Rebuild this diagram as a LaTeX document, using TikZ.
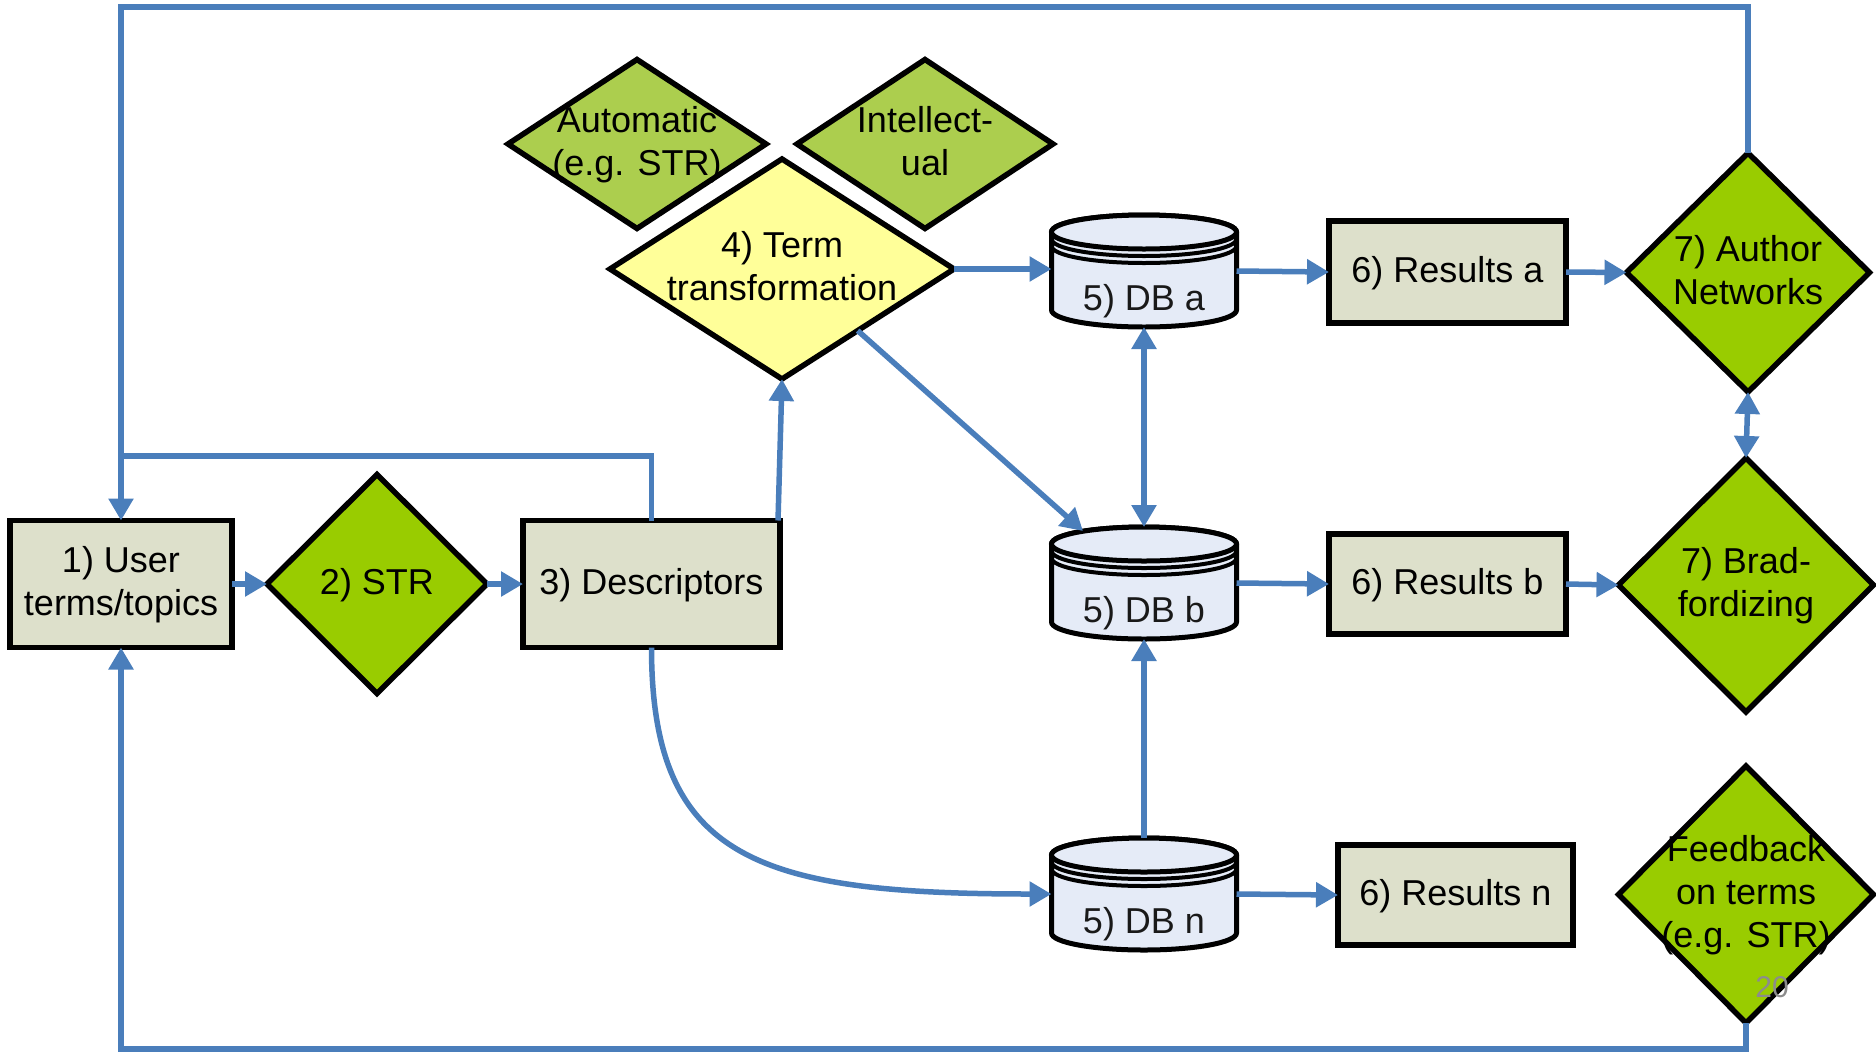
\documentclass[tikz,border=0pt]{standalone}
\usepackage{fontspec}
\setmainfont{Liberation Sans}
\usetikzlibrary{shapes.geometric,arrows.meta,calc}
\definecolor{linkblue}{RGB}{74,126,187}
\definecolor{greenfill}{RGB}{153,204,0}
\definecolor{hatchfill}{RGB}{172,206,78}
\definecolor{yellowfill}{RGB}{255,255,153}
\definecolor{boxfill}{RGB}{221,224,203}
\definecolor{dbfill}{RGB}{229,235,247}
\newcommand\tx[1]{\makebox[0pt]{\raisebox{-8pt}[0pt][0pt]{\begin{tabular}{@{}c@{}}#1\end{tabular}}}}
\newcommand\dbshape[4]{%
  \node[dbanchor] (#1) at (#2,#3) {};
  \path[dbline] (#2-92.5,#3-39) -- (#2-92.5,#3+39)
     arc[start angle=180,end angle=360,x radius=92.5pt,y radius=17pt]
     -- (#2+92.5,#3-39)
     arc[start angle=0,end angle=180,x radius=92.5pt,y radius=17pt] -- cycle;
  \path[dbline] (#2,#3-39) ellipse[x radius=92.5pt,y radius=17pt];
  \draw[line width=4pt] (#2-92.5,#3-32) arc[start angle=180,end angle=360,x radius=92.5pt,y radius=17pt];
  \draw[line width=4pt] (#2-92.5,#3-25) arc[start angle=180,end angle=360,x radius=92.5pt,y radius=17pt];
  \node[dbtext] (#1t) at (#2,#3+30) {#4};
}
\tikzset{
  every node/.style={inner sep=0pt,outer sep=0pt,font=\fontsize{36}{43}\selectfont},
  box/.style={rectangle,draw=black,line width=5.5pt,fill=boxfill},
  dia/.style={diamond,draw=black,line width=5.5pt,fill=greenfill,line join=miter},
  hat/.style={dia,fill=hatchfill},
  yel/.style={dia,fill=yellowfill},
  dbanchor/.style={rectangle,minimum width=185pt,minimum height=112pt},
  dbline/.style={draw=black,line width=5pt,fill=dbfill},
  dbtext/.style={text=black!90},
  conn/.style={draw=linkblue,line width=5.5pt},
  arr/.style={conn,-{Triangle[length=22pt,width=24pt]}},
  darr/.style={conn,{Triangle[length=22pt,width=24pt]}-{Triangle[length=22pt,width=24pt]}},
  pagenum/.style={text=black!45,font=\fontsize{30}{36}\selectfont},
}
\begin{document}
\begin{tikzpicture}[x=1pt,y=-1pt]
\useasboundingbox (0,0) rectangle (1876,1053);
% left column
\node[box,minimum width=222pt,minimum height=127pt] (box1) at (121,584) {\tx{1) User\\terms/topics}};
\node[dia,minimum width=220pt,minimum height=219pt] (str) at (377,584) {\tx{2) STR}};
\node[box,minimum width=257pt,minimum height=127pt] (box3) at (651.5,584) {\tx{3) Descriptors}};
% term transformation
\node[hat,minimum width=258pt,minimum height=169pt] (auto) at (637,144) {\tx{Automatic\\(e.g. STR)}};
\node[hat,minimum width=256pt,minimum height=169pt] (intel) at (925,144) {\tx{Intellect-\\ual}};
\node[yel,minimum width=344pt,minimum height=220pt] (term) at (782,269) {\tx{4) Term\\transformation}};
% databases
\dbshape{dba}{1144}{271}{5) DB a}
\dbshape{dbb}{1144}{583}{5) DB b}
\dbshape{dbn}{1144}{894}{5) DB n}
% results
\node[box,minimum width=237pt,minimum height=102pt] (resa) at (1447.5,272) {\tx{6) Results a}};
\node[box,minimum width=237pt,minimum height=100pt] (resb) at (1447.5,584) {\tx{6) Results b}};
\node[box,minimum width=235pt,minimum height=100pt] (resn) at (1455.5,895) {\tx{6) Results n}};
% right column
\node[dia,minimum width=243pt,minimum height=239pt] (author) at (1748,272.5) {\tx{7) Author\\Networks}};
\node[dia,minimum width=255pt,minimum height=254pt] (brad) at (1746,585) {\tx{7) Brad-\\fordizing}};
\node[dia,minimum width=255pt,minimum height=257pt] (feed) at (1746,894.5) {\tx{Feedback\\on terms\\(e.g. STR)}};
% helper coordinates
\coordinate (topy) at (0,7);
\coordinate (boty) at (0,1049);
\coordinate (join) at (121,456);
% connectors
\draw[arr] (box1.east) -- (str.west);
\draw[arr] (str.east) -- (box3.west);
\draw[arr] ($(box3.north east)+(-2,0)$) -- (term.south);
\draw[conn] (box3.north) |- (join);
\draw[arr] (author.north) -- (author.north |- topy) -| (box1.north);
\draw[arr] (feed.south) -- (feed.south |- boty) -| (box1.south);
\draw[arr] (term.east) -- (term.east -| dba.west);
\draw[arr] ($(term.south)!0.44!(term.east)$) -- ($(dbb.north)+(-61,4)$);
\draw[darr] (dba.south) -- (dbb.north);
\draw[arr] (dbn.north) -- (dbb.south);
\draw[arr] (box3.south) .. controls +(0,213) and +(-292,0) .. (dbn.west);
\draw[arr] (dba.east) -- (resa.west);
\draw[arr] (dbb.east) -- (resb.west);
\draw[arr] (dbn.east) -- (resn.west);
\draw[arr] (resa.east) -- (author.west);
\draw[arr] (resb.east) -- (brad.west);
\draw[darr] (author.south) -- (brad.north);
% page number
\node[pagenum] (pnum) at (1772,987) {20};
\end{tikzpicture}
\end{document}
